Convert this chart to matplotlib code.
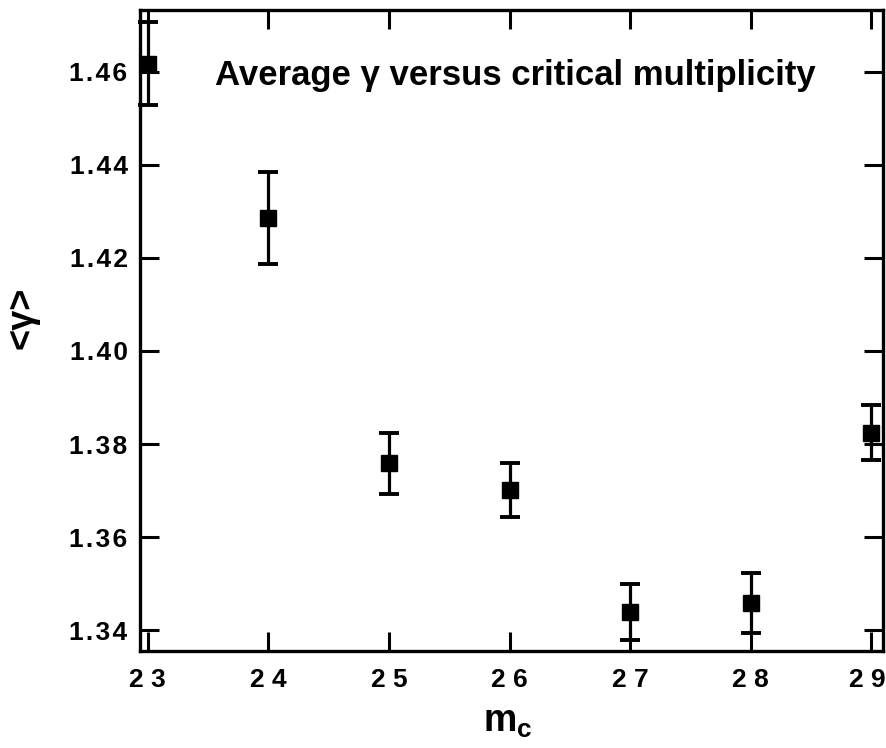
import matplotlib
matplotlib.use('Agg')
import matplotlib.pyplot as plt
from matplotlib.transforms import ScaledTranslation

plt.rcParams['font.family'] = ['Liberation Sans', 'DejaVu Sans']
plt.rcParams['font.weight'] = 'bold'
plt.rcParams['mathtext.fontset'] = 'custom'
plt.rcParams['mathtext.rm'] = 'Liberation Sans:bold'
plt.rcParams['mathtext.bf'] = 'Liberation Sans:bold'
plt.rcParams['mathtext.it'] = 'Liberation Sans:bold'

# ---- data ----
m_c = [23, 24, 25, 26, 27, 28, 29]
gamma_mean = [1.4617, 1.4286, 1.3759, 1.3701, 1.3439, 1.3458, 1.3824]
gamma_upper = [1.4708, 1.4385, 1.3824, 1.3759, 1.3499, 1.3523, 1.3884]
gamma_lower = [1.4529, 1.4187, 1.3692, 1.3643, 1.3378, 1.3394, 1.3766]

xtick_values = [23, 24, 25, 26, 27, 28, 29]
xtick_labels = ['2 3', '2 4', '2 5', '2 6', '2 7', '2 8', '2 9']
ytick_values = [1.34, 1.36, 1.38, 1.40, 1.42, 1.44, 1.46]
ytick_labels = ['1\u200a.\u200a3\u200a4', '1\u200a.\u200a3\u200a6', '1\u200a.\u200a3\u200a8',
                '1\u200a.\u200a4\u200a0', '1\u200a.\u200a4\u200a2', '1\u200a.\u200a4\u200a4',
                '1\u200a.\u200a4\u200a6']

title_text = 'Average \u03b3 versus critical multiplicity'

err_low = [m - lo for m, lo in zip(gamma_mean, gamma_lower)]
err_high = [hi - m for m, hi in zip(gamma_mean, gamma_upper)]

W, H = 887, 748
fig = plt.figure(figsize=(W / 100, H / 100), dpi=100)
ax = fig.add_axes([140 / W, 1 - 651 / H, 743 / W, 641 / H])

ax.errorbar(m_c, gamma_mean, yerr=[err_low, err_high], fmt='s', color='black',
            ms=11.5, elinewidth=2.3, capsize=7, capthick=2.8, clip_on=False, zorder=3)

ax.set_xlim(22.935, 29.097)
ax.set_ylim(1.3355, 1.4733)

ax.set_xticks(xtick_values)
ax.set_xticklabels(xtick_labels)
ax.set_yticks(ytick_values)
ax.set_yticklabels(ytick_labels)

ax.tick_params(axis='both', which='major', direction='in', length=14, width=2.2,
               top=True, right=True, labelsize=19, colors='black')
ax.tick_params(axis='x', pad=12)
ax.tick_params(axis='y', pad=9)
for lab in ax.get_xticklabels() + ax.get_yticklabels():
    lab.set_fontweight('bold')

# keep the last x tick label inside the figure edge (as in the reference)
last = ax.xaxis.get_major_ticks()[-1].label1
last.set_transform(last.get_transform() + ScaledTranslation(-4 / 100, 0, fig.dpi_scale_trans))

for sp in ax.spines.values():
    sp.set_linewidth(2.4)
    sp.set_color('black')

ax.text(0.505, 0.883, title_text, transform=ax.transAxes, ha='center',
        va='baseline', fontsize=25, fontweight='bold')

ax.set_ylabel('<\u03b3>', fontsize=26, fontweight='bold', rotation=90)
ax.yaxis.set_label_coords(-(140 - 22) / 743, (651 - 318) / 641)
ax.yaxis.label.set_va('center')
ax.yaxis.label.set_ha('center')

ax.set_xlabel(r'$\mathbf{m}_{\mathbf{c}}$', fontsize=27)
ax.xaxis.set_label_coords((508 - 140) / 743, -(722 - 651) / 641)
ax.xaxis.label.set_va('center')

fig.savefig('out.png', dpi=100)
